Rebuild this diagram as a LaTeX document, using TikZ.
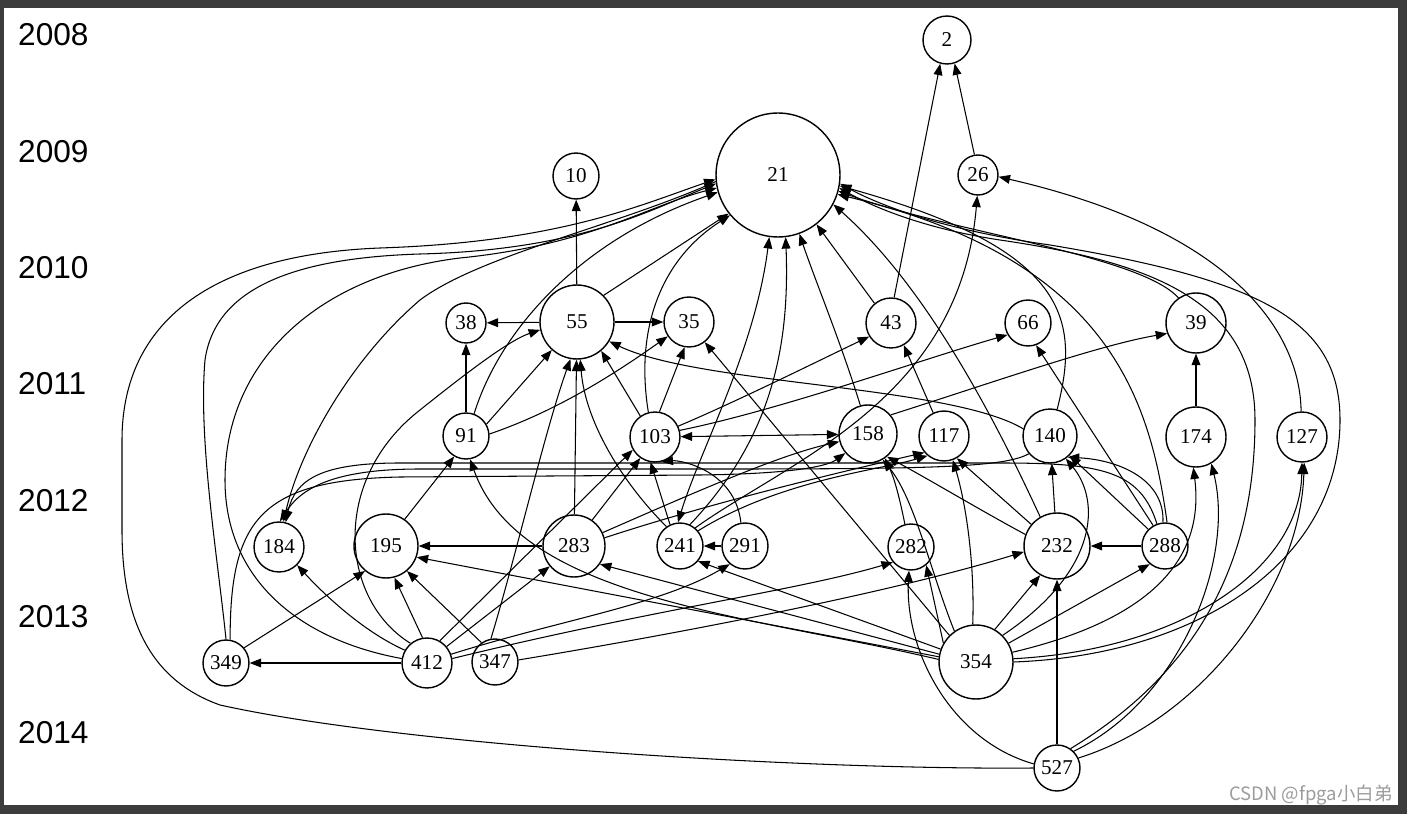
\documentclass[tikz,border=0pt]{standalone}
\usepackage{fontspec}
\usetikzlibrary{arrows.meta}
\newfontfamily\paperfont{Liberation Serif}
\newfontfamily\yearfont{Liberation Sans}
\newfontfamily\markfont{Noto Sans CJK SC}
\definecolor{framegray}{HTML}{3C3C3C}
\definecolor{markgray}{HTML}{9C9C9C}

\begin{document}
\begin{tikzpicture}[x=0.02cm, y=-0.02cm,
  paper/.style={draw, circle, line width=0.8pt, inner sep=0pt, minimum size=#1*0.04cm, font=\paperfont\fontsize{12}{14}\selectfont},
  cite/.style={line width=0.6pt, -{Triangle[length=6.5pt, width=5pt]}},
  mutual/.style={line width=0.6pt, {Triangle[length=6.5pt, width=5pt]}-{Triangle[length=6.5pt, width=5pt]}},
  yearlbl/.style={anchor=west, font=\yearfont\fontsize{18}{20}\selectfont}
]
  \useasboundingbox (0,0) rectangle (1407,814);
  \fill[framegray] (0,0) rectangle (1407,814);
  \fill[white] (4,8) rectangle (1398,805);

  \foreach \yr [count=\i from 0] in {2008,...,2014}
    \node[yearlbl] (y\yr) at (12,35+116.3*\i) {\yr};

  % papers, one row per year
  \node[paper=24] (p2) at (947,40) {2};
  \node[paper=62] (p21) at (778,175) {21};
  \node[paper=23] (p10) at (576,176) {10};
  \node[paper=20] (p26) at (978,175) {26};
  \node[paper=20] (p38) at (466,323) {38};
  \node[paper=37] (p55) at (577,322) {55};
  \node[paper=25] (p35) at (689,322) {35};
  \node[paper=25] (p43) at (891,323) {43};
  \node[paper=23] (p66) at (1028,323) {66};
  \node[paper=30] (p39) at (1196,323) {39};
  \node[paper=23] (p91) at (466,436) {91};
  \node[paper=25] (p103) at (655,437) {103};
  \node[paper=29] (p158) at (868,434) {158};
  \node[paper=25] (p117) at (944,436) {117};
  \node[paper=27] (p140) at (1050,436) {140};
  \node[paper=30] (p174) at (1196,437) {174};
  \node[paper=25] (p127) at (1302,437) {127};
  \node[paper=25] (p184) at (279,547) {184};
  \node[paper=32] (p195) at (386,546) {195};
  \node[paper=31] (p283) at (574,546) {283};
  \node[paper=23] (p241) at (680,546) {241};
  \node[paper=23] (p291) at (745,546) {291};
  \node[paper=23] (p282) at (911,547) {282};
  \node[paper=33] (p232) at (1057,546) {232};
  \node[paper=23] (p288) at (1165,546) {288};
  \node[paper=23] (p349) at (226,663) {349};
  \node[paper=25] (p412) at (427,663) {412};
  \node[paper=23] (p347) at (495,662) {347};
  \node[paper=37] (p354) at (976,662) {354};
  \node[paper=23] (p527) at (1057,768) {527};

  % into 2 and 26
  \draw[cite] (p43.83) -- (p2.254);
  \draw[cite] (p26.100) -- (p2.288);
  \draw[cite] (p127.92) .. controls (1300,330) and (1230,230) .. (p26.-5);
  \draw[cite] (p241.50) .. controls (790,460) and (960,400) .. (p26.-92);

  % around 55
  \draw[cite] (p55) -- (p10);
  \draw[cite] (p55) -- (p38);
  \draw[cite] (p55) -- (p35);
  \draw[cite] (p55.45) -- (p21.218);
  \draw[cite] (p91) -- (p38);
  \draw[cite] (p91.30) -- (p55.228);
  \draw[cite] (p91.5) .. controls (560,410) and (620,370) .. (p35.214);
  \draw[cite] (p91.70) .. controls (500,330) and (580,240) .. (p21.196);
  \draw[cite] (p195.55) -- (p91.-120);
  \draw[cite] (p283) -- (p55);
  \draw[cite] (p283) -- (p195);
  \draw[cite] (p283.55) -- (p103.-125);
  \draw[cite] (p283.25) .. controls (700,490) and (780,455) .. (p158.-165);
  \draw[cite] (p283.15) .. controls (720,500) and (850,470) .. (p117.-140);

  % 103 and the middle row
  \draw[cite] (p103.125) -- (p55.-50);
  \draw[cite] (p103.80) -- (p35.-100);
  \draw[cite] (p103.105) .. controls (635,330) and (660,260) .. (p21.220);
  \draw[cite] (p103.25) .. controls (740,400) and (820,360) .. (p43.-148);
  \draw[cite] (p103.15) .. controls (780,410) and (920,360) .. (p66.-150);
  \draw[mutual] (p103) -- (p158);
  \draw[cite] (p43.130) -- (p21.308);
  \draw[cite] (p117.115) -- (p43.-60);
  \draw[cite] (p158.40) .. controls (1000,380) and (1100,345) .. (p39.-160);
  \draw[cite] (p158.105) .. controls (840,340) and (815,280) .. (p21.290);
  \draw[cite] (p174) -- (p39);
  \draw[cite] (p39.125) .. controls (1140,255) and (950,232) .. (p21.-15);
  \draw[cite] (p140.75) .. controls (1080,320) and (1070,250) .. (p21.-10);
  \draw[cite] (p140.165) .. controls (950,385) and (700,385) .. (p55.-31);
  \draw[cite] (p140.-140) .. controls (1000,470) and (900,469) .. (600,469) -- (420,469) .. controls (330,469) and (300,490) .. (p184.88);

  % 241 and 291
  \draw[cite] (p291) -- (p241);
  \draw[mutual] (p241.95) .. controls (700,450) and (755,350) .. (p21.262);
  \draw[cite] (p241.65) .. controls (770,440) and (790,350) .. (p21.277);
  \draw[cite] (p241.125) .. controls (620,480) and (585,420) .. (p55.-85);
  \draw[cite] (p241.115) -- (p103.-100);
  \draw[cite] (p241.40) .. controls (780,480) and (880,470) .. (p117.-130);
  \draw[cite] (p291.100) .. controls (735,470) and (680,460) .. (p103.-75);

  % 232 and 288
  \draw[cite] (p288) -- (p232);
  \draw[cite] (p232) -- (p140);
  \draw[cite] (p288.135) -- (p140.-45);
  \draw[cite] (p288.95) .. controls (1165,480) and (1120,460) .. (p140.-50);
  \draw[cite] (p288.120) -- (p66.-70);
  \draw[cite] (p288.85) .. controls (1150,400) and (1110,260) .. (p21.-18);
  \draw[cite] (p288.110) .. controls (1140,470) and (1100,463) .. (1000,463) -- (400,463) .. controls (320,463) and (295,480) .. (p184.75);
  \draw[cite] (p232.160) .. controls (980,510) and (930,480) .. (p158.-50);
  \draw[cite] (p232.140) -- (p117.-60);
  \draw[cite] (p232.120) .. controls (1000,430) and (930,290) .. (p21.-28);
  \draw[cite] (p282.105) .. controls (900,500) and (895,480) .. (p158.-55);

  % 354
  \draw[cite] (p354.150) -- (p282.-50);
  \draw[cite] (p354.60) -- (p232.-120);
  \draw[cite] (p354.30) -- (p288.-130);
  \draw[cite] (p354.95) .. controls (975,560) and (965,500) .. (p117.-70);
  \draw[cite] (p354.125) .. controls (930,570) and (915,500) .. (p158.-60);
  \draw[cite] (p354.45) .. controls (1100,570) and (1100,500) .. (p140.-55);
  \draw[cite] (p354.135) -- (p35.-52);
  \draw[cite] (p354.172) -- (p195.-20);
  \draw[cite] (p354.168) -- (p283.-35);
  \draw[cite] (p354.160) -- (p241.-40);
  \draw[cite] (p354.176) .. controls (750,615) and (520,600) .. (p91.-80);
  \draw[cite] (p354.15) .. controls (1150,620) and (1205,560) .. (p174.-95);
  \draw[cite] (p354.5) .. controls (1180,650) and (1300,570) .. (p127.-90);
  \draw[cite] (p354.0) .. controls (1200,655) and (1340,560) .. (1340,420) .. controls (1340,320) and (1260,280) .. (1050,245) .. controls (930,228) and (870,200) .. (p21.-8);

  % 527
  \draw[cite] (p527) -- (p232);
  \draw[cite] (p527.170) .. controls (950,740) and (905,650) .. (p282.-95);
  \draw[cite] (p527.45) .. controls (1180,700) and (1235,560) .. (p174.-60);
  \draw[cite] (p527.25) .. controls (1200,720) and (1300,590) .. (p127.-85);
  \draw[cite] (p527.55) .. controls (1200,670) and (1255,560) .. (1255,420) .. controls (1255,300) and (1150,262) .. (1000,240) .. controls (920,228) and (870,205) .. (p21.-12);
  \draw[cite] (p527.west) .. controls (800,770) and (400,745) .. (220,705) .. controls (150,680) and (122,620) .. (122,530) -- (122,440) .. controls (122,330) and (200,255) .. (380,248) .. controls (560,242) and (640,205) .. (p21.184);

  % left side: 349, 412, 347
  \draw[cite] (p21.186) .. controls (620,225) and (480,255) .. (420,300) .. controls (350,360) and (300,450) .. (p184.80);
  \draw[cite] (p412) -- (p349);
  \draw[cite] (p349.40) -- (p195.-130);
  \draw[cite] (p349.north) .. controls (218,560) and (198,440) .. (205,360) .. controls (215,290) and (290,258) .. (420,254) .. controls (580,250) and (650,210) .. (p21.188);
  \draw[cite] (p349.80) .. controls (230,520) and (260,480) .. (400,477) -- (700,475) .. controls (780,474) and (825,468) .. (p158.-140);
  \draw[cite] (p412.150) .. controls (360,630) and (320,590) .. (p184.-45);
  \draw[cite] (p412.100) -- (p195.-75);
  \draw[cite] (p412.60) -- (p103.-150);
  \draw[cite] (p412.40) -- (p283.-140);
  \draw[cite] (p412.10) .. controls (650,610) and (800,590) .. (p282.-140);
  \draw[cite] (p412.20) .. controls (560,620) and (660,605) .. (p291.-130);
  \draw[cite] (p412.130) .. controls (340,600) and (330,480) .. (420,410) .. controls (470,370) and (510,340) .. (p55.192);
  \draw[cite] (p412.170) .. controls (300,640) and (225,580) .. (225,480) .. controls (225,360) and (320,275) .. (460,258) .. controls (590,245) and (650,205) .. (p21.192);
  \draw[cite] (p347.125) -- (p195.-50);
  \draw[cite] (p347.100) .. controls (515,560) and (545,430) .. (p55.-100);
  \draw[cite] (p347.5) .. controls (700,630) and (900,590) .. (p232.-170);

  \node[font=\markfont\fontsize{10.5}{12}\selectfont, text=markgray] (mark) at (1311,795) {CSDN @fpga小白弟};
\end{tikzpicture}
\end{document}
